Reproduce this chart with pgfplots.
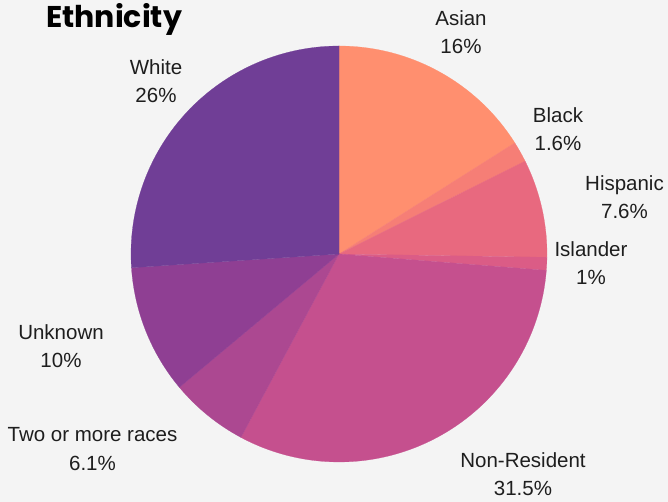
\documentclass[border=0pt]{standalone}
\usepackage{pgfplots}
\pgfplotsset{compat=1.18}
\usepgfplotslibrary{polar}
\usepackage{fontspec}
\setmainfont{Liberation Sans}
\newfontfamily\titlefont{Poppins}

\definecolor{bg}{HTML}{F4F4F4}
\definecolor{txt}{HTML}{1E1E1E}
\definecolor{cAsian}{HTML}{FF8F6F}
\definecolor{cBlack}{HTML}{F67E76}
\definecolor{cHisp}{HTML}{E8697F}
\definecolor{cIsl}{HTML}{DB5C86}
\definecolor{cNonRes}{HTML}{C5508E}
\definecolor{cTwo}{HTML}{AC4891}
\definecolor{cUnk}{HTML}{8F3F93}
\definecolor{cWhite}{HTML}{703E96}

% shares in percent, clockwise from the top
\def\total{99.8}
\def\R{208pt}
\def\cur{90}
\newcommand\slice[2]{%
  \pgfmathsetmacro\nxt{\cur-#1*360/\total}%
  \edef\doslice{\noexpand\addplot[fill=#2,draw=#2,line width=0.2pt]
    coordinates {(0,0) (\cur,1)}
    arc[start angle=\cur, end angle=\nxt, radius=\R] -- cycle;}%
  \doslice
  \global\let\cur\nxt}

\begin{document}
\begin{tikzpicture}[x=1pt,y=1pt]
\fill[bg] (0,0) rectangle (668,502);
\begin{polaraxis}[
  hide axis,
  scale only axis,
  width=416pt, height=416pt,
  xmin=0, xmax=360, ymin=0, ymax=1,
  anchor=origin, at={(339pt,248pt)},
  clip=false,
]
\slice{16}{cAsian}
\slice{1.6}{cBlack}
\slice{7.6}{cHisp}
\slice{1}{cIsl}
\slice{31.5}{cNonRes}
\slice{6.1}{cTwo}
\slice{10}{cUnk}
\slice{26}{cWhite}
\end{polaraxis}

\node[anchor=base west, text=black, font=\titlefont\bfseries\fontsize{30}{34}\selectfont, inner sep=0]
  at (46,474) {Ethnicity};

\tikzset{lab/.style={align=center, text=txt, font=\fontsize{20.5}{28.5}\selectfont, inner sep=0}}
\node[lab] at (461,470) {Asian\\16\%};
\node[lab] at (558,373) {Black\\1.6\%};
\node[lab] at (624.5,305) {Hispanic\\7.6\%};
\node[lab] at (591,239) {Islander\\1\%};
\node[lab] at (523,28) {Non-Resident\\31.5\%};
\node[lab] at (92.5,53) {Two or more races\\6.1\%};
\node[lab] at (61,156) {Unknown\\10\%};
\node[lab] at (156,421) {White\\26\%};
\end{tikzpicture}
\end{document}
